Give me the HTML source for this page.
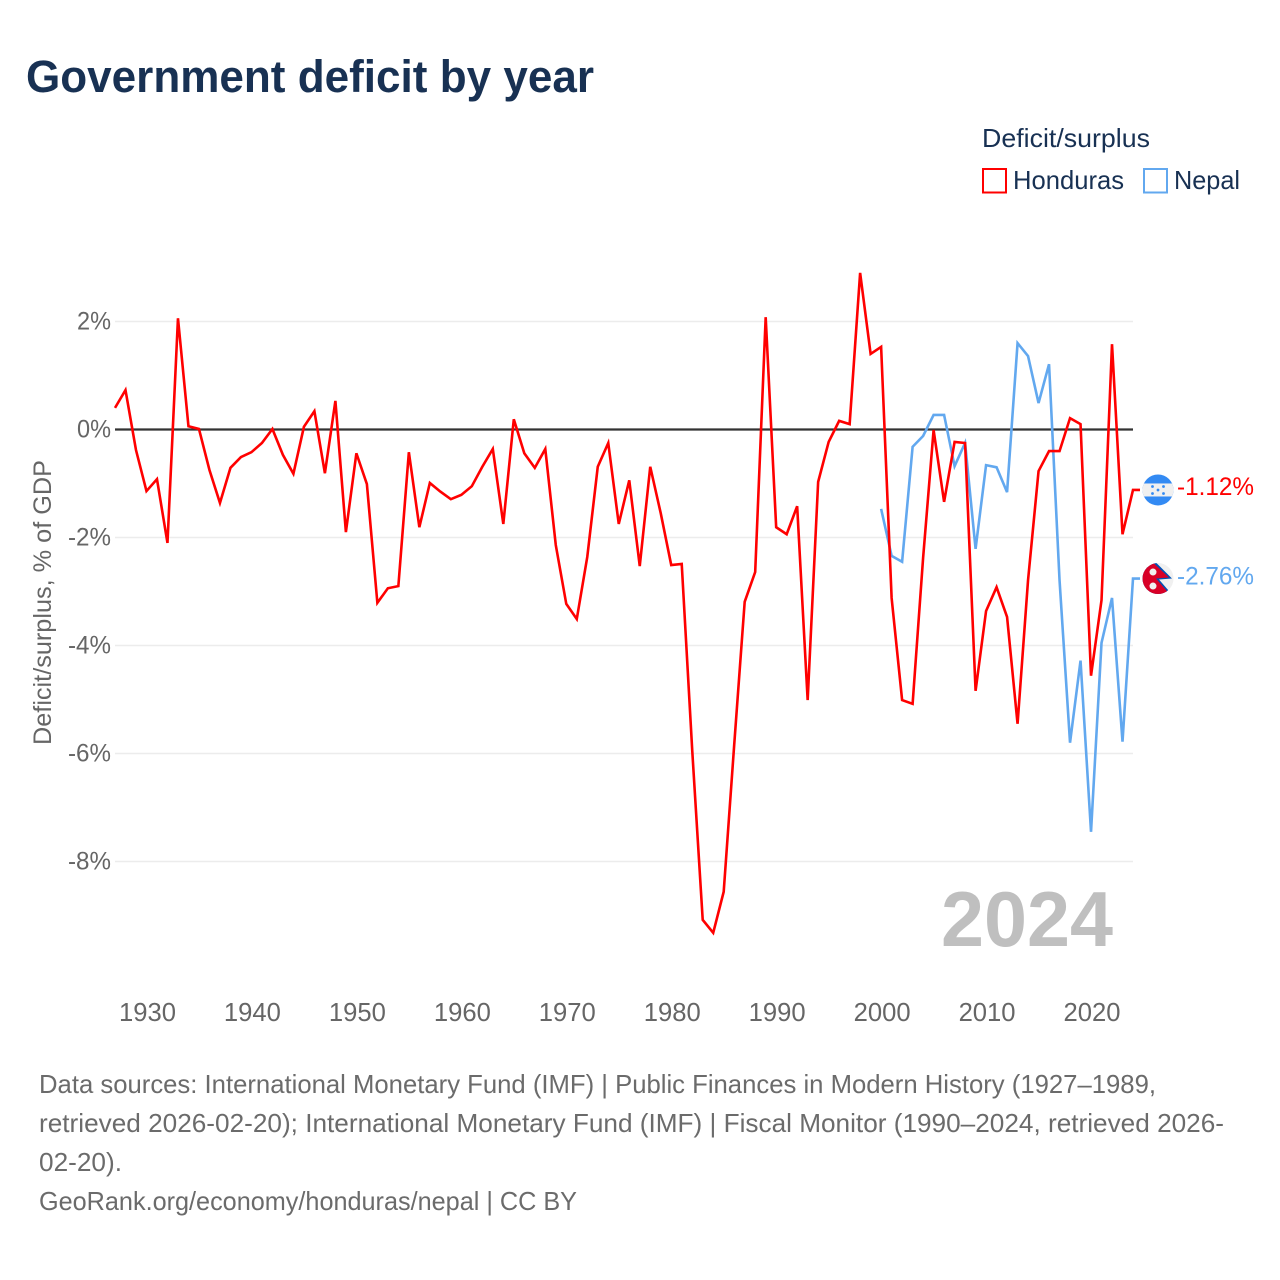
<!DOCTYPE html>
<html lang="en">
<head>
<meta charset="utf-8">
<title>Government deficit by year</title>
<style>
html,body{margin:0;padding:0;background:#fff;}
svg{display:block;font-family:"Liberation Sans",Arial,sans-serif;}
</style>
</head>
<body>
<svg id="chart" width="1280" height="1280" viewBox="0 0 1280 1280" xmlns="http://www.w3.org/2000/svg">
  <rect x="0" y="0" width="1280" height="1280" fill="#ffffff"/>
  <text x="26" y="92" font-size="45" font-weight="700" fill="#183153" textLength="568" lengthAdjust="spacingAndGlyphs">Government deficit by year</text>

  <g>
    <text x="982" y="147" font-size="26" fill="#183153" textLength="168" lengthAdjust="spacingAndGlyphs">Deficit/surplus</text>
    <g>
      <rect x="983" y="169" width="23" height="23.5" fill="#ffffff" stroke="#ff0000" stroke-width="2"/>
      <text x="1013" y="189" font-size="26" fill="#183153" textLength="111" lengthAdjust="spacingAndGlyphs">Honduras</text>
    </g>
    <g>
      <rect x="1144" y="169" width="23" height="23.5" fill="#ffffff" stroke="#62a8ef" stroke-width="2"/>
      <text x="1174" y="189" font-size="26" fill="#183153" textLength="66" lengthAdjust="spacingAndGlyphs">Nepal</text>
    </g>
  </g>

  <g id="grid"></g>
  <g id="yticks"></g>
  <g id="xticks"></g>
  <text transform="translate(51,602.5) rotate(-90)" text-anchor="middle" font-size="25" fill="#666666" textLength="285" lengthAdjust="spacingAndGlyphs">Deficit/surplus, % of GDP</text>
  <text x="941" y="946" font-size="78" font-weight="700" fill="#bfbfbf" textLength="172" lengthAdjust="spacingAndGlyphs">2024</text>
  <line id="zero" stroke="#333333" stroke-width="2.2"/>
  <g id="series"></g>
  <g id="ends"></g>

  <g font-size="26" fill="#6b6b6b">
    <text x="39" y="1093" textLength="1117" lengthAdjust="spacingAndGlyphs">Data sources: International Monetary Fund (IMF) | Public Finances in Modern History (1927–1989,</text>
    <text x="39" y="1132" textLength="1185" lengthAdjust="spacingAndGlyphs">retrieved 2026-02-20); International Monetary Fund (IMF) | Fiscal Monitor (1990–2024, retrieved 2026-</text>
    <text x="39" y="1171" textLength="83" lengthAdjust="spacingAndGlyphs">02-20).</text>
    <text x="39" y="1210" textLength="538" lengthAdjust="spacingAndGlyphs">GeoRank.org/economy/honduras/nepal | CC BY</text>
  </g>
</svg>
<script>
const firstYear = 1927;
const lastYear = 2024;
const hondurasValues = [
  0.40, 0.73, -0.38, -1.14, -0.92, -2.10, 2.06, 0.06, 0.01, -0.75,
  -1.36, -0.71, -0.51, -0.42, -0.25, 0.01, -0.47, -0.82, 0.05, 0.34,
  -0.81, 0.53, -1.90, -0.44, -1.01, -3.21, -2.94, -2.90, -0.42, -1.81,
  -0.99, -1.15, -1.29, -1.21, -1.05, -0.69, -0.36, -1.75, 0.19, -0.44,
  -0.71, -0.36, -2.14, -3.23, -3.51, -2.36, -0.69, -0.25, -1.75, -0.94,
  -2.53, -0.69, -1.55, -2.51, -2.49, -5.94, -9.08, -9.32, -8.56, -5.84,
  -3.19, -2.64, 2.08, -1.81, -1.94, -1.42, -5.01, -0.97, -0.23, 0.16,
  0.10, 2.90, 1.40, 1.53, -3.12, -5.01, -5.08, -2.38, -0.01, -1.34,
  -0.23, -0.25, -4.84, -3.36, -2.92, -3.47, -5.45, -2.79, -0.77, -0.40,
  -0.40, 0.21, 0.10, -4.56, -3.16, 1.58, -1.94, -1.12
];
const nepalFirstYear = 2000;
const nepalValues = [
  -1.47, -2.34, -2.45, -0.32, -0.12, 0.27, 0.27, -0.68, -0.25, -2.21,
  -0.66, -0.70, -1.16, 1.60, 1.36, 0.49, 1.21, -2.79, -5.80, -4.28,
  -7.45, -3.95, -3.12, -5.78, -2.76
];
const xTickYears = [1930, 1940, 1950, 1960, 1970, 1980, 1990, 2000, 2010, 2020];
const yTickValues = [2, 0, -2, -4, -6, -8];

const NS = 'http://www.w3.org/2000/svg';
const plotLeft = 115, plotRight = 1133, stubEnd = 1140;
function xScale(year) { return plotLeft + (year - firstYear) * (plotRight - plotLeft) / (lastYear - firstYear); }
function yScale(value) { return 429.5 - value * 54; }
function make(tag, attrs, parent) {
  const el = document.createElementNS(NS, tag);
  for (const k in attrs) el.setAttribute(k, attrs[k]);
  parent.appendChild(el);
  return el;
}
const gridG = document.getElementById('grid');
const yG = document.getElementById('yticks');
const xG = document.getElementById('xticks');
const seriesG = document.getElementById('series');
const endsG = document.getElementById('ends');

yTickValues.forEach(function (v) {
  if (v !== 0) {
    const gl = make('line', {x1: plotLeft, x2: plotRight, y1: yScale(v), y2: yScale(v), stroke: '#ececec', 'stroke-width': 1.6}, gridG);
    
    
  }
  const lab = make('text', {x: 111, y: yScale(v) + 8, 'text-anchor': 'end', 'font-size': 25, fill: '#666666', textLength: v < 0 ? 43 : 34, lengthAdjust: 'spacingAndGlyphs'}, yG);
  lab.textContent = v + '%';
  
  
});

xTickYears.forEach(function (yr) {
  const lab = make('text', {x: xScale(yr) + 1, y: 1021, 'text-anchor': 'middle', 'font-size': 26, fill: '#666666', textLength: 57, lengthAdjust: 'spacingAndGlyphs'}, xG);
  lab.textContent = String(yr);
  
  
});

const zero = document.getElementById('zero');
zero.setAttribute('x1', plotLeft);
zero.setAttribute('x2', plotRight);
zero.setAttribute('y1', yScale(0));
zero.setAttribute('y2', yScale(0));

function pathFor(values, startYear) {
  const body = values.map(function (v, i) {
    return (i ? 'L' : 'M') + xScale(startYear + i).toFixed(2) + ' ' + yScale(v).toFixed(2);
  }).join(' ');
  return body + ' L' + stubEnd + ' ' + yScale(values[values.length - 1]).toFixed(2);
}
const nepalLine = make('path', {d: pathFor(nepalValues, nepalFirstYear), fill: 'none', stroke: '#62a8ef', 'stroke-width': 2.6, 'stroke-linejoin': 'miter'}, seriesG);


const hondurasLine = make('path', {d: pathFor(hondurasValues, firstYear), fill: 'none', stroke: '#ff0000', 'stroke-width': 2.6, 'stroke-linejoin': 'miter'}, seriesG);



const defs = make('defs', {}, endsG);
const hClip = make('clipPath', {id: 'hclip'}, defs);
make('circle', {cx: 0, cy: 0, r: 15.5}, hClip);
const nClip = make('clipPath', {id: 'nclip'}, defs);
make('circle', {cx: 0, cy: 0, r: 15.5}, nClip);

// Honduras end marker
const hVal = hondurasValues[hondurasValues.length - 1];
const hFlag = make('g', {transform: 'translate(1158,' + yScale(hVal) + ')', 'clip-path': 'url(#hclip)'}, endsG);


make('rect', {x: -16, y: -16, width: 32, height: 32, fill: '#338af3'}, hFlag);
make('rect', {x: -16, y: -6.5, width: 32, height: 13, fill: '#f0f0f0'}, hFlag);
[[-5.5, -3.5], [5.5, -3.5], [0, 0], [-5.5, 3.5], [5.5, 3.5]].forEach(function (p) {
  make('circle', {cx: p[0], cy: p[1], r: 1.4, fill: '#338af3'}, hFlag);
});
const hLab = make('text', {x: 1177, y: yScale(hVal) + 5, 'font-size': 25, fill: '#ff0000', textLength: 77, lengthAdjust: 'spacingAndGlyphs'}, endsG);
hLab.textContent = hVal.toFixed(2) + '%';



// Nepal end marker
const nVal = nepalValues[nepalValues.length - 1];
const nFlag = make('g', {transform: 'translate(1158,' + yScale(nVal) + ')', 'clip-path': 'url(#nclip)'}, endsG);


make('rect', {x: -16, y: -16, width: 32, height: 32, fill: '#f0f0f0'}, nFlag);
make('path', {d: 'M-17 -17 L-3 -17 L14 0 L1 1 L14 16 L-17 17 Z', fill: '#0052b4'}, nFlag);
make('path', {d: 'M-17 -17 L-4 -15 L11 -1 L-2 0 L11 15 L-17 17 Z', fill: '#d80027'}, nFlag);
make('circle', {cx: -5, cy: -6.5, r: 3.5, fill: '#f0f0f0'}, nFlag);
make('circle', {cx: -5, cy: 7.5, r: 3.5, fill: '#f0f0f0'}, nFlag);
const nLab = make('text', {x: 1177, y: yScale(nVal) + 6, 'font-size': 25, fill: '#62a8ef', textLength: 77, lengthAdjust: 'spacingAndGlyphs'}, endsG);
nLab.textContent = nVal.toFixed(2) + '%';


</script>
</body>
</html>
